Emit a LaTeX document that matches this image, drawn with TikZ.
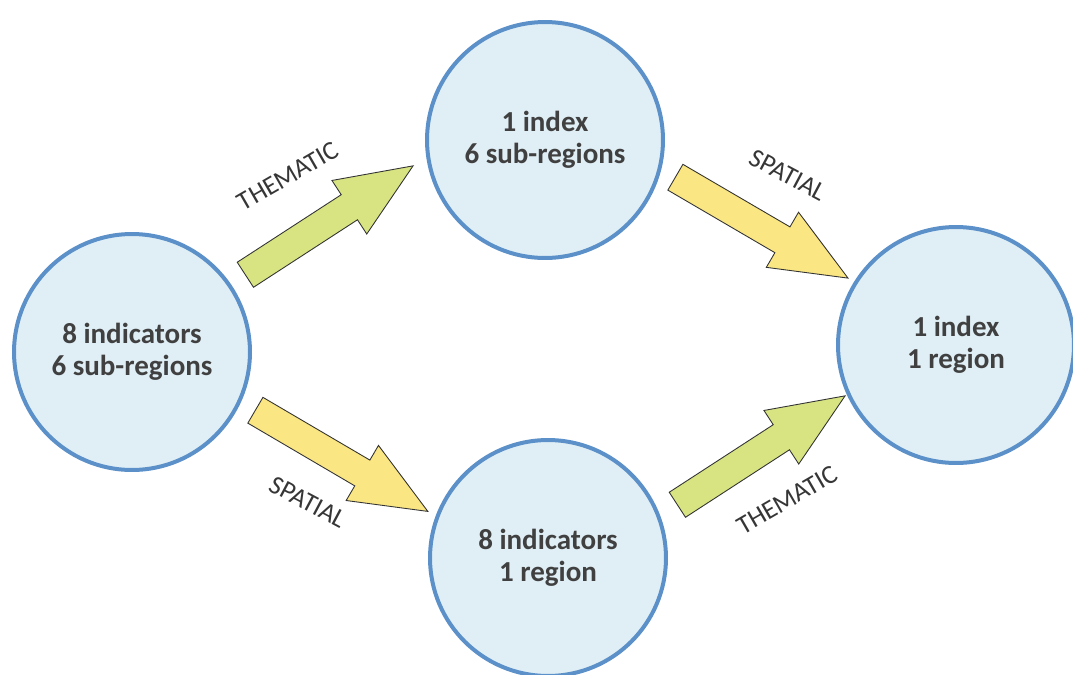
\documentclass[tikz,border=0pt]{standalone}
\usepackage{fontspec}
\setmainfont{Carlito}
\usetikzlibrary{shapes.arrows}
\definecolor{regionblue}{RGB}{91,144,200}
\definecolor{regionfill}{RGB}{224,239,246}
\definecolor{thematicgreen}{RGB}{216,228,130}
\definecolor{spatialyellow}{RGB}{250,230,130}
\definecolor{textgray}{RGB}{64,64,64}

\begin{document}
\begin{tikzpicture}[x=0.02cm, y=-0.02cm,
    region/.style={circle, draw=regionblue, line width=0.08cm, fill=regionfill,
        minimum size=4.72cm, inner sep=0, align=center, text=textgray,
        font=\fontsize{16.5}{18}\selectfont\bfseries},
    blockarrow/.style={single arrow, draw=black!80, line width=0.5pt,
        inner xsep=0, inner ysep=0.29cm, minimum height=4cm,
        single arrow head extend=0.34cm, single arrow tip angle=45.6, anchor=tail},
    thematic/.style={blockarrow, fill=thematicgreen},
    spatial/.style={blockarrow, fill=spatialyellow},
    steplabel/.style={text=textgray!85!black, font=\fontsize{15}{18}\selectfont}]

    \clip (0,0) rectangle (1073,674);

    % Regions
    \node[region] (start) at (132,352) {8 indicators\\6 sub-regions};
    \node[region] (index6) at (545,140) {1 index\\6 sub-regions};
    \node[region] (ind1) at (548,558) {8 indicators\\1 region};
    \node[region] (final) at (956,345) {1 index\\1 region};

    % Upper path
    \node[thematic, rotate=33] (thupper) at (245,275) {};
    \node[spatial, rotate=-30.3] (spupper) at (675,177) {};

    % Lower path
    \node[spatial, rotate=-30.4] (splower) at (255,410) {};
    \node[thematic, rotate=33] (thlower) at (677,505) {};

    % Labels
    \node[steplabel, rotate=30] (thupperlbl) at (288,176) {THEMATIC};
    \node[steplabel, rotate=-28] (spupperlbl) at (788,175) {SPATIAL};
    \node[steplabel, rotate=-28] (splowerlbl) at (308,502) {SPATIAL};
    \node[steplabel, rotate=30] (thlowerlbl) at (787,500) {THEMATIC};
\end{tikzpicture}
\end{document}
